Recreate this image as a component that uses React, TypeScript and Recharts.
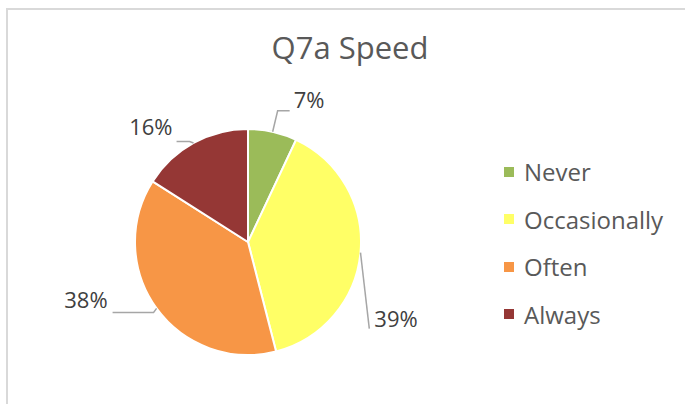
import { PieChart, Pie, Cell, Legend } from "recharts";

const CATEGORIES = ["Never", "Occasionally", "Often", "Always"];
const PERCENTS = [7, 39, 38, 16];
const COLORS = ["#9BBB59", "#FFFF66", "#F79646", "#953735"];

const data = CATEGORIES.map((name, i) => ({ name, value: PERCENTS[i] }));

const RAD = Math.PI / 180;
const FONT = "'Open Sans', sans-serif";

// leader line shape per slice, relative to the slice's outer mid point
const LABEL_LAYOUT = [
  { elbow: [5, -21], end: [17, -21], anchor: "start", tx: 4, ty: -9 },
  { elbow: [8.8, 76], end: [8.8, 76], anchor: "start", tx: 5, ty: -8 },
  { elbow: [-3, 4], end: [-44, 4], anchor: "end", tx: -5, ty: -10 },
  { elbow: [-4, -1.5], end: [-17, -1.5], anchor: "end", tx: -4, ty: -12 },
];

const renderLabel = (props: any) => {
  const { cx, cy, midAngle, outerRadius, index, value } = props;
  const x = cx + outerRadius * Math.cos(-midAngle * RAD);
  const y = cy + outerRadius * Math.sin(-midAngle * RAD);
  const l = LABEL_LAYOUT[index];
  const ex = x + l.end[0];
  const ey = y + l.end[1];
  return (
    <g>
      <polyline
        points={`${x},${y} ${x + l.elbow[0]},${y + l.elbow[1]} ${ex},${ey}`}
        fill="none"
        stroke="#A6A6A6"
        strokeWidth={1.5}
      />
      <text
        x={ex + l.tx}
        y={ey + l.ty}
        textAnchor={l.anchor}
        dominantBaseline="middle"
        fill="#404040"
        fontSize={22}
        fontFamily={FONT}
      >
        {`${value}%`}
      </text>
    </g>
  );
};

const renderLegend = (props: any) => {
  const payload = [...(props.payload || [])].sort(
    (a: any, b: any) => CATEGORIES.indexOf(a.value) - CATEGORIES.indexOf(b.value)
  );
  return (
    <div>
      {payload.map((entry: any) => (
        <div
          key={entry.value}
          style={{ display: "flex", alignItems: "center", height: 47.5 }}
        >
          <span
            style={{
              width: 10,
              height: 10,
              background: entry.color,
              marginRight: 10,
            }}
          />
          <span style={{ fontSize: 24, color: "#595959", fontFamily: FONT }}>
            {entry.value}
          </span>
        </div>
      ))}
    </div>
  );
};

export default function App() {
  return (
    <div
      style={{
        position: "absolute",
        left: 0,
        top: 0,
        width: 685,
        height: 404,
        background: "#fff",
        overflow: "hidden",
      }}
    >
      <div
        style={{
          position: "absolute",
          left: 6,
          top: 8,
          width: 700,
          height: 420,
          borderTop: "2px solid #D9D9D9",
          borderLeft: "2px solid #D9D9D9",
        }}
      />
      <div
        style={{
          position: "absolute",
          left: 0,
          top: 26,
          width: 700,
          textAlign: "center",
          fontSize: 31,
          color: "#595959",
          fontFamily: FONT,
        }}
      >
        Q7a Speed
      </div>
      <div style={{ position: "absolute", left: 0, top: 0 }}>
        <PieChart
          width={685}
          height={404}
          margin={{ top: 0, right: 0, bottom: 0, left: 0 }}
        >
          <Pie
            data={data}
            dataKey="value"
            nameKey="name"
            cx={248}
            cy={242}
            outerRadius={113}
            startAngle={90}
            endAngle={-270}
            stroke="#fff"
            strokeWidth={2}
            labelLine={false}
            label={renderLabel}
            isAnimationActive={false}
          >
            {data.map((_, index) => (
              <Cell key={`cell-${index}`} fill={COLORS[index]} />
            ))}
          </Pie>
          <Legend
            layout="vertical"
            content={renderLegend}
            wrapperStyle={{ left: 504, top: 148, width: 180 }}
          />
        </PieChart>
      </div>
    </div>
  );
}
